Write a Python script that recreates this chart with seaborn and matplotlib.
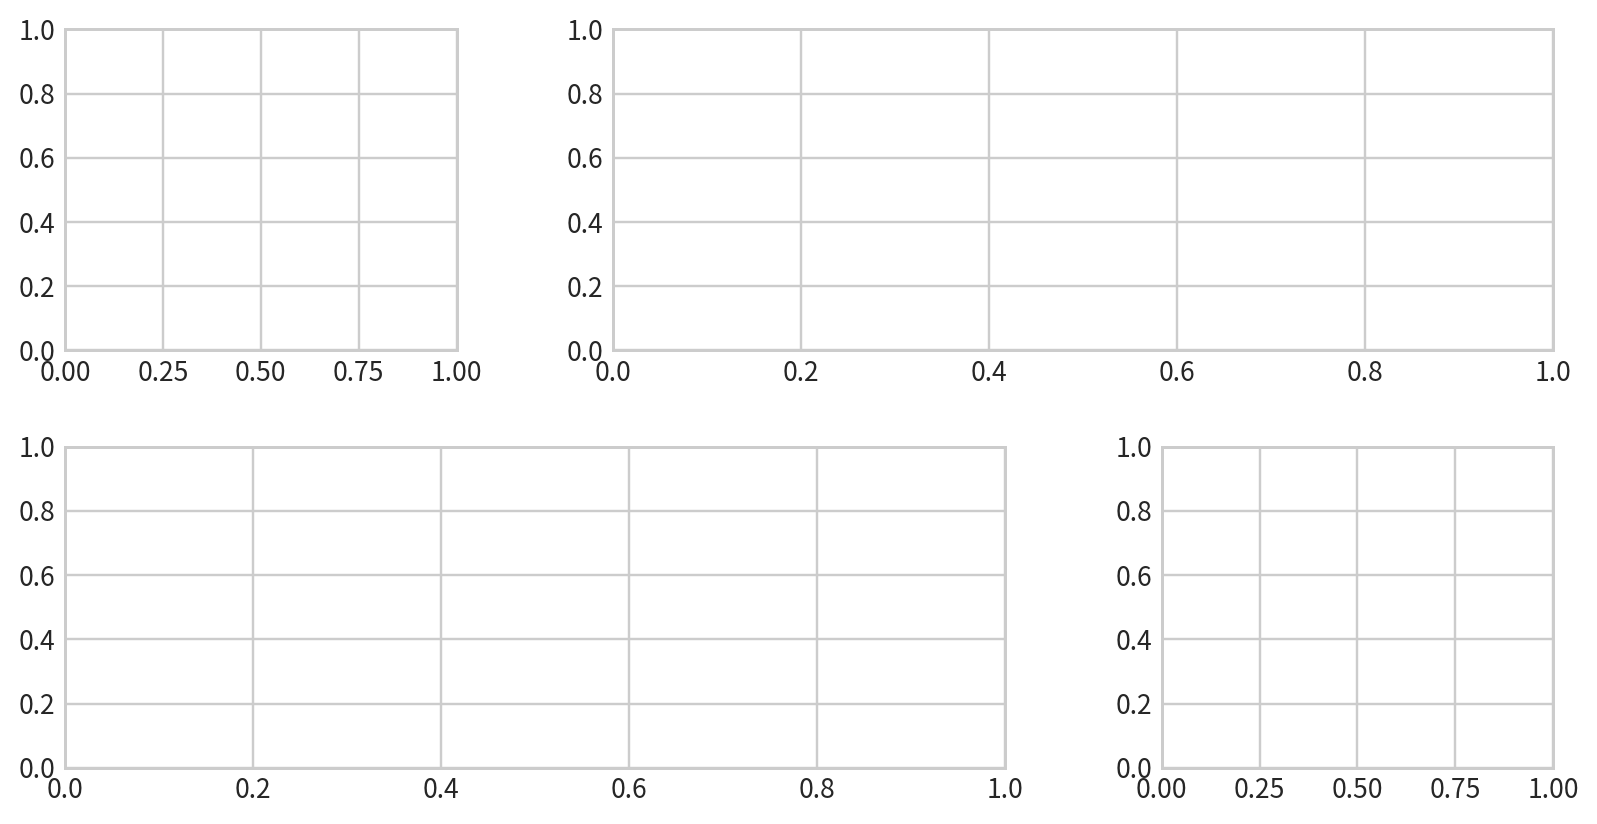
import matplotlib
matplotlib.use("Agg")
import matplotlib.pyplot as plt
import seaborn as sns

sns.set_theme(style="whitegrid")
plt.rcParams['font.family'] = ['Noto Sans CJK SC', 'DejaVu Sans']

# empty panels: (row, column slice) in a 2x3 grid
panels = [(0, slice(0, 1)), (0, slice(1, 3)), (1, slice(0, 2)), (1, slice(2, 3))]

fig = plt.figure(figsize=(1598 / 173, 824 / 173), dpi=173)
gs = fig.add_gridspec(2, 3, left=0.0407, right=0.972, top=0.9642, bottom=0.0683,
                      wspace=0.4, hspace=0.3)
for r, c in panels:
    ax = fig.add_subplot(gs[r, c])
    ax.tick_params(axis="both", pad=-2)

fig.savefig("out.png", dpi=173)
